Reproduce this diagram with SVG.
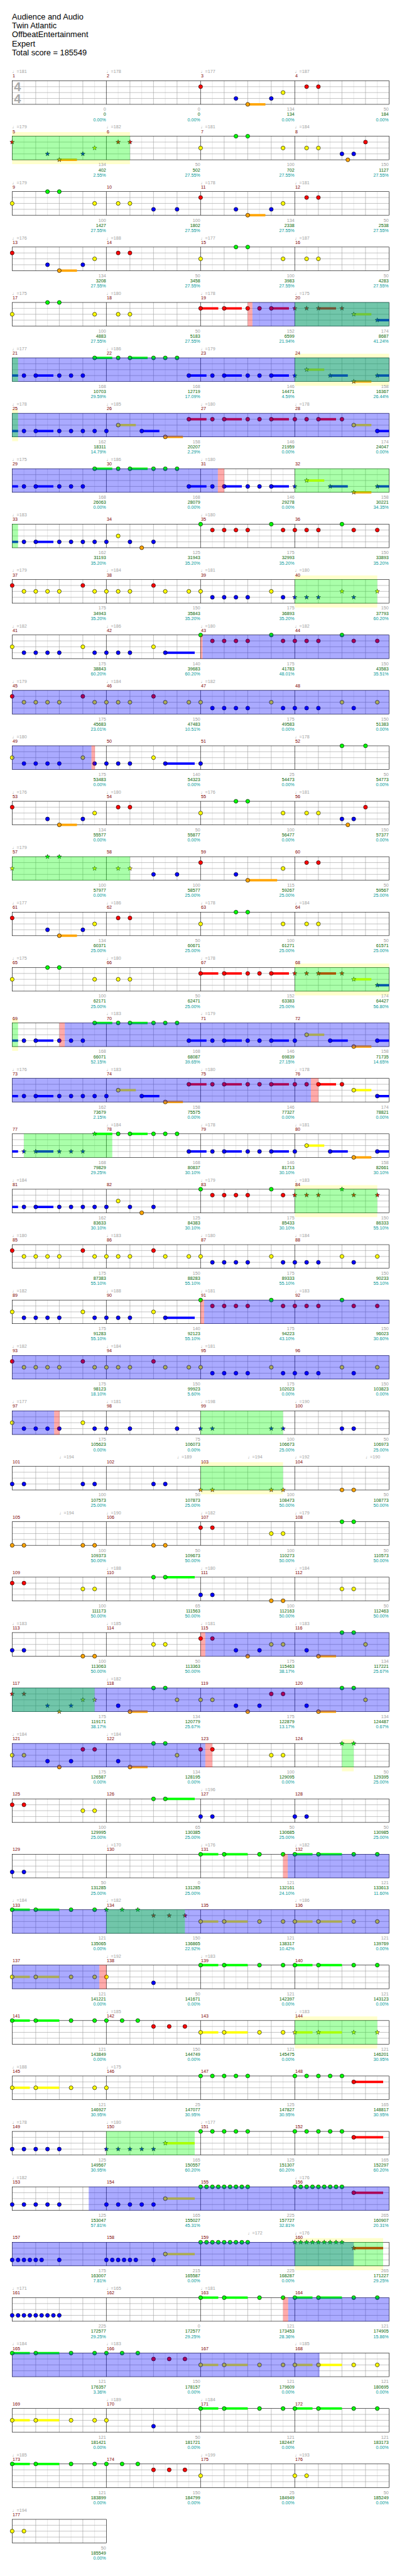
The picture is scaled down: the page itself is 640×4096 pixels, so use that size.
<svg xmlns="http://www.w3.org/2000/svg" xmlns:xlink="http://www.w3.org/1999/xlink" width="640" height="4096" viewBox="0 0 640 4096">
<style>
text{font-family:"Liberation Sans",Arial,"DejaVu Sans",sans-serif;font-size:11.5px}
.ti{font-size:20.5px;fill:#000}
.ts{font-size:32px;font-weight:bold;fill:#aaa}
.tp{fill:#a0a0a0}
.mn{fill:#800000}
.n1{fill:#a0a0a0;text-anchor:end}
.n2{fill:#006400;text-anchor:end}
.n3{fill:#009999;text-anchor:end}
.l1{stroke:#dcdcdc;fill:none}
.l2{stroke:#a0a0a0;fill:none}
.l3{stroke:#000;fill:none}
.t{fill:none;stroke-width:6}
.tG{stroke:#00ff00}.tR{stroke:#ff0000}.tY{stroke:#ffff00}.tB{stroke:#0000ff}.tO{stroke:#ffa500}
.yb{fill:#ffffcc}
.og{fill:#00ff00;fill-opacity:.333}
.ob{fill:#0000ff;fill-opacity:.333}
.op{fill:#ff0000;fill-opacity:.333}
</style>
<defs>
<circle id="G" cy="205.5" r="5" fill="#00ff00" stroke="#000"/>
<circle id="R" cy="220.5" r="5" fill="#ff0000" stroke="#000"/>
<circle id="Y" cy="235.5" r="5" fill="#ffff00" stroke="#000"/>
<circle id="B" cy="250.5" r="5" fill="#0000ff" stroke="#000"/>
<circle id="O" cy="265.5" r="5" fill="#ffa500" stroke="#000"/>
<path id="st" d="M0 -6L1.41 -1.94 5.71 -1.85 2.28 0.74 3.53 4.85 0 2.4 -3.53 4.85 -2.28 0.74 -5.71 -1.85 -1.41 -1.94Z" stroke="#000" stroke-width=".8"/>
<use id="sG" href="#st" y="205.5" fill="#00ff00"/>
<use id="sR" href="#st" y="220.5" fill="#ff0000"/>
<use id="sY" href="#st" y="235.5" fill="#ffff00"/>
<use id="sB" href="#st" y="250.5" fill="#0000ff"/>
<use id="sO" href="#st" y="265.5" fill="#ffa500"/>
<g id="s4">
<path class="l1" d="M61 205.5v60M121 205.5v60M181 205.5v60M241 205.5v60M301 205.5v60M361 205.5v60M421 205.5v60M481 205.5v60M541 205.5v60M601 205.5v60M661 205.5v60M721 205.5v60M781 205.5v60M841 205.5v60M901 205.5v60M961 205.5v60"/>
<path class="l2" d="M31 220.5H991M31 235.5H991M31 250.5H991M91 205.5v60M151 205.5v60M211 205.5v60M331 205.5v60M391 205.5v60M451 205.5v60M571 205.5v60M631 205.5v60M691 205.5v60M811 205.5v60M871 205.5v60M931 205.5v60"/>
<path class="l3" d="M271 205.5v60M511 205.5v60M751 205.5v60"/>
<rect class="l3" x="31" y="205.5" width="960" height="60"/>
</g>
<g id="s1">
<path class="l1" d="M61 205.5v60M121 205.5v60M181 205.5v60M241 205.5v60"/>
<path class="l2" d="M31 220.5H271M31 235.5H271M31 250.5H271M91 205.5v60M151 205.5v60M211 205.5v60"/>
<rect class="l3" x="31" y="205.5" width="240" height="60"/>
</g>
</defs>
<rect width="640" height="4096" fill="#fff"/>
<g transform="scale(0.625)">
<g id="title">
<text class="ti" x="30.5" y="49">Audience and Audio</text>
<text class="ti" x="30.5" y="72">Twin Atlantic</text>
<text class="ti" x="30.5" y="95">OffbeatEntertainment</text>
<text class="ti" x="30.5" y="118">Expert</text>
<text class="ti" x="30.5" y="141">Total score = 185549</text>
</g>

<g id="r0">
<use href="#s4"/>
<text class="ts" x="35.5" y="232">4</text><text class="ts" x="35.5" y="262">4</text>
<path class="t tO" d="M631 265.5H676"/>
<use href="#R" x="511"/><use href="#B" x="601"/><use href="#O" x="631"/><use href="#B" x="691"/><use href="#Y" x="721"/><use href="#R" x="781"/><use href="#R" x="811"/>
<text class="tp" x="31" y="186">♩=181</text><text class="tp" x="271" y="186">♩=178</text><text class="tp" x="511" y="186">♩=177</text><text class="tp" x="751" y="186">♩=187</text>
<text class="mn" x="32" y="197.5">1</text><text class="mn" x="272" y="197.5">2</text><text class="mn" x="512" y="197.5">3</text><text class="mn" x="752" y="197.5">4</text>
<text class="n1" x="270" y="282">0</text><text class="n2" x="270" y="295">0</text><text class="n3" x="270" y="308">0.00%</text>
<text class="n1" x="510" y="282">0</text><text class="n2" x="510" y="295">0</text><text class="n3" x="510" y="308">0.00%</text>
<text class="n1" x="750" y="282">134</text><text class="n2" x="750" y="295">134</text><text class="n3" x="750" y="308">0.00%</text>
<text class="n1" x="990" y="282">50</text><text class="n2" x="990" y="295">184</text><text class="n3" x="990" y="308">0.00%</text>
</g>

<g id="r1" transform="translate(0,141)">
<path class="yb" d="M31 195h300v10.5h-300zM31 265.5h300v11h-300z"/>
<use href="#s4"/>
<path class="t tO" d="M151 265.5H196"/>
<use href="#sR" x="31"/><use href="#sB" x="121"/><use href="#sO" x="151"/><use href="#sB" x="211"/><use href="#sY" x="241"/><use href="#sR" x="301"/><use href="#sR" x="331"/><use href="#Y" x="511"/><use href="#G" x="601"/><use href="#G" x="631"/><use href="#Y" x="721"/><use href="#Y" x="781"/><use href="#Y" x="811"/><use href="#B" x="871"/><use href="#O" x="886"/><use href="#B" x="901"/><use href="#R" x="931"/>
<rect class="og" x="31" y="205" width="300" height="61"/>
<text class="tp" x="31" y="186">♩=179</text><text class="tp" x="271" y="186">♩=182</text><text class="tp" x="511" y="186">♩=181</text><text class="tp" x="751" y="186">♩=184</text>
<text class="mn" x="32" y="197.5">5</text><text class="mn" x="272" y="197.5">6</text><text class="mn" x="512" y="197.5">7</text><text class="mn" x="752" y="197.5">8</text>
<text class="n1" x="270" y="282">134</text><text class="n2" x="270" y="295">402</text><text class="n3" x="270" y="308">2.55%</text>
<text class="n1" x="510" y="282">50</text><text class="n2" x="510" y="295">502</text><text class="n3" x="510" y="308">27.55%</text>
<text class="n1" x="750" y="282">100</text><text class="n2" x="750" y="295">702</text><text class="n3" x="750" y="308">27.55%</text>
<text class="n1" x="990" y="282">150</text><text class="n2" x="990" y="295">1127</text><text class="n3" x="990" y="308">27.55%</text>
</g>

<g id="r2" transform="translate(0,282)">
<use href="#s4"/>
<path class="t tO" d="M631 265.5H676"/>
<use href="#Y" x="31"/><use href="#G" x="121"/><use href="#G" x="151"/><use href="#Y" x="241"/><use href="#Y" x="301"/><use href="#Y" x="331"/><use href="#B" x="391"/><use href="#B" x="451"/><use href="#R" x="511"/><use href="#B" x="601"/><use href="#O" x="631"/><use href="#B" x="691"/><use href="#Y" x="721"/><use href="#R" x="781"/><use href="#R" x="811"/>
<text class="tp" x="31" y="186">♩=179</text><text class="tp" x="511" y="186">♩=178</text><text class="tp" x="751" y="186">♩=181</text>
<text class="mn" x="32" y="197.5">9</text><text class="mn" x="272" y="197.5">10</text><text class="mn" x="512" y="197.5">11</text><text class="mn" x="752" y="197.5">12</text>
<text class="n1" x="270" y="282">100</text><text class="n2" x="270" y="295">1427</text><text class="n3" x="270" y="308">27.55%</text>
<text class="n1" x="510" y="282">100</text><text class="n2" x="510" y="295">1802</text><text class="n3" x="510" y="308">27.55%</text>
<text class="n1" x="750" y="282">134</text><text class="n2" x="750" y="295">2338</text><text class="n3" x="750" y="308">27.55%</text>
<text class="n1" x="990" y="282">50</text><text class="n2" x="990" y="295">2538</text><text class="n3" x="990" y="308">27.55%</text>
</g>

<g id="r3" transform="translate(0,423)">
<use href="#s4"/>
<path class="t tO" d="M151 265.5H196"/>
<use href="#R" x="31"/><use href="#B" x="121"/><use href="#O" x="151"/><use href="#B" x="211"/><use href="#Y" x="241"/><use href="#R" x="301"/><use href="#R" x="331"/><use href="#Y" x="511"/><use href="#G" x="601"/><use href="#G" x="631"/><use href="#Y" x="721"/><use href="#Y" x="781"/><use href="#Y" x="811"/>
<text class="tp" x="31" y="186">♩=176</text><text class="tp" x="271" y="186">♩=188</text><text class="tp" x="511" y="186">♩=177</text><text class="tp" x="751" y="186">♩=187</text>
<text class="mn" x="32" y="197.5">13</text><text class="mn" x="272" y="197.5">14</text><text class="mn" x="512" y="197.5">15</text><text class="mn" x="752" y="197.5">16</text>
<text class="n1" x="270" y="282">134</text><text class="n2" x="270" y="295">3208</text><text class="n3" x="270" y="308">27.55%</text>
<text class="n1" x="510" y="282">50</text><text class="n2" x="510" y="295">3458</text><text class="n3" x="510" y="308">27.55%</text>
<text class="n1" x="750" y="282">100</text><text class="n2" x="750" y="295">3983</text><text class="n3" x="750" y="308">27.55%</text>
<text class="n1" x="990" y="282">50</text><text class="n2" x="990" y="295">4283</text><text class="n3" x="990" y="308">27.55%</text>
</g>

<g id="r4" transform="translate(0,564)">
<use href="#s4"/>
<path class="t tR" d="M511 220.5H556M571 220.5H616M691 220.5H736M811 220.5H856"/><path class="t tY" d="M901 235.5H946"/><path class="t tB" d="M961 250.5H991"/>
<use href="#Y" x="31"/><use href="#G" x="121"/><use href="#G" x="151"/><use href="#Y" x="241"/><use href="#Y" x="301"/><use href="#Y" x="331"/><use href="#R" x="511"/><use href="#R" x="571"/><use href="#R" x="631"/><use href="#R" x="661"/><use href="#R" x="691"/><use href="#sR" x="751"/><use href="#sR" x="781"/><use href="#sR" x="811"/><use href="#sR" x="871"/><use href="#sY" x="901"/><use href="#sB" x="961"/>
<rect class="op" x="631" y="205" width="12" height="61"/><rect class="ob" x="643" y="205" width="348" height="61"/><rect class="og" x="751" y="205" width="240" height="61"/>
<text class="tp" x="31" y="186">♩=175</text><text class="tp" x="271" y="186">♩=180</text><text class="tp" x="511" y="186">♩=178</text><text class="tp" x="751" y="186">♩=175</text>
<text class="mn" x="32" y="197.5">17</text><text class="mn" x="272" y="197.5">18</text><text class="mn" x="512" y="197.5">19</text><text class="mn" x="752" y="197.5">20</text>
<text class="n1" x="270" y="282">100</text><text class="n2" x="270" y="295">4883</text><text class="n3" x="270" y="308">27.55%</text>
<text class="n1" x="510" y="282">50</text><text class="n2" x="510" y="295">5183</text><text class="n3" x="510" y="308">27.55%</text>
<text class="n1" x="750" y="282">152</text><text class="n2" x="750" y="295">6599</text><text class="n3" x="750" y="308">21.94%</text>
<text class="n1" x="990" y="282">174</text><text class="n2" x="990" y="295">8687</text><text class="n3" x="990" y="308">41.24%</text>
</g>

<g id="r5" transform="translate(0,705)">
<path class="yb" d="M751 195h240v10.5h-240zM751 265.5h240v11h-240z"/>
<use href="#s4"/>
<path class="t tB" d="M31 250.5H46M91 250.5H136M481 250.5H526M571 250.5H616M691 250.5H736M841 250.5H886M961 250.5H991"/><path class="t tG" d="M241 205.5H286M331 205.5H376"/><path class="t tY" d="M781 235.5H826"/><path class="t tO" d="M901 265.5H946"/>
<use href="#B" x="61"/><use href="#B" x="91"/><use href="#B" x="151"/><use href="#B" x="181"/><use href="#B" x="211"/><use href="#G" x="241"/><use href="#G" x="301"/><use href="#G" x="331"/><use href="#G" x="391"/><use href="#G" x="421"/><use href="#G" x="451"/><use href="#B" x="481"/><use href="#B" x="541"/><use href="#B" x="571"/><use href="#B" x="631"/><use href="#B" x="661"/><use href="#B" x="691"/><use href="#sB" x="751"/><use href="#sY" x="781"/><use href="#sB" x="841"/><use href="#sO" x="901"/><use href="#sB" x="961"/>
<rect class="ob" x="31" y="205" width="960" height="61"/><rect class="og" x="31" y="205" width="15" height="61"/><rect class="og" x="751" y="205" width="240" height="61"/>
<text class="tp" x="31" y="186">♩=177</text><text class="tp" x="271" y="186">♩=186</text><text class="tp" x="511" y="186">♩=179</text>
<text class="mn" x="32" y="197.5">21</text><text class="mn" x="272" y="197.5">22</text><text class="mn" x="512" y="197.5">23</text><text class="mn" x="752" y="197.5">24</text>
<text class="n1" x="270" y="282">168</text><text class="n2" x="270" y="295">10703</text><text class="n3" x="270" y="308">29.59%</text>
<text class="n1" x="510" y="282">168</text><text class="n2" x="510" y="295">12719</text><text class="n3" x="510" y="308">17.09%</text>
<text class="n1" x="750" y="282">146</text><text class="n2" x="750" y="295">14471</text><text class="n3" x="750" y="308">4.59%</text>
<text class="n1" x="990" y="282">158</text><text class="n2" x="990" y="295">16367</text><text class="n3" x="990" y="308">26.44%</text>
</g>

<g id="r6" transform="translate(0,846)">
<path class="yb" d="M31 195h15v10.5h-15zM31 265.5h15v11h-15z"/>
<use href="#s4"/>
<path class="t tB" d="M31 250.5H46M91 250.5H136M361 250.5H406M961 250.5H991"/><path class="t tY" d="M301 235.5H346M901 235.5H946"/><path class="t tO" d="M421 265.5H466"/><path class="t tR" d="M481 220.5H526M571 220.5H616M691 220.5H736M811 220.5H856"/>
<use href="#B" x="61"/><use href="#B" x="91"/><use href="#B" x="151"/><use href="#B" x="181"/><use href="#B" x="211"/><use href="#B" x="241"/><use href="#B" x="271"/><use href="#Y" x="301"/><use href="#B" x="361"/><use href="#O" x="421"/><use href="#R" x="481"/><use href="#R" x="541"/><use href="#R" x="571"/><use href="#R" x="631"/><use href="#R" x="661"/><use href="#R" x="691"/><use href="#R" x="751"/><use href="#R" x="781"/><use href="#R" x="811"/><use href="#R" x="871"/><use href="#Y" x="901"/><use href="#B" x="961"/>
<rect class="ob" x="31" y="205" width="960" height="61"/><rect class="og" x="31" y="205" width="15" height="61"/>
<text class="tp" x="31" y="186">♩=178</text><text class="tp" x="271" y="186">♩=185</text><text class="tp" x="511" y="186">♩=180</text><text class="tp" x="751" y="186">♩=178</text>
<text class="mn" x="32" y="197.5">25</text><text class="mn" x="272" y="197.5">26</text><text class="mn" x="512" y="197.5">27</text><text class="mn" x="752" y="197.5">28</text>
<text class="n1" x="270" y="282">162</text><text class="n2" x="270" y="295">18311</text><text class="n3" x="270" y="308">14.79%</text>
<text class="n1" x="510" y="282">158</text><text class="n2" x="510" y="295">20207</text><text class="n3" x="510" y="308">2.29%</text>
<text class="n1" x="750" y="282">146</text><text class="n2" x="750" y="295">21959</text><text class="n3" x="750" y="308">0.00%</text>
<text class="n1" x="990" y="282">174</text><text class="n2" x="990" y="295">24047</text><text class="n3" x="990" y="308">0.00%</text>
</g>

<g id="r7" transform="translate(0,987)">
<use href="#s4"/>
<path class="t tB" d="M31 250.5H46M91 250.5H136M481 250.5H526M571 250.5H616M691 250.5H736M841 250.5H886M961 250.5H991"/><path class="t tG" d="M241 205.5H286M331 205.5H376"/><path class="t tY" d="M781 235.5H826"/><path class="t tO" d="M901 265.5H946"/>
<use href="#B" x="61"/><use href="#B" x="91"/><use href="#B" x="151"/><use href="#B" x="181"/><use href="#B" x="211"/><use href="#G" x="241"/><use href="#G" x="301"/><use href="#G" x="331"/><use href="#G" x="391"/><use href="#G" x="421"/><use href="#G" x="451"/><use href="#B" x="481"/><use href="#B" x="541"/><use href="#B" x="571"/><use href="#B" x="631"/><use href="#B" x="661"/><use href="#B" x="691"/><use href="#sB" x="751"/><use href="#sY" x="781"/><use href="#sB" x="841"/><use href="#sO" x="901"/><use href="#sB" x="961"/>
<rect class="ob" x="31" y="205" width="524" height="61"/><rect class="op" x="555" y="205" width="16" height="61"/><rect class="og" x="751" y="205" width="240" height="61"/>
<text class="tp" x="31" y="186">♩=175</text><text class="tp" x="271" y="186">♩=186</text><text class="tp" x="511" y="186">♩=180</text>
<text class="mn" x="32" y="197.5">29</text><text class="mn" x="272" y="197.5">30</text><text class="mn" x="512" y="197.5">31</text><text class="mn" x="752" y="197.5">32</text>
<text class="n1" x="270" y="282">168</text><text class="n2" x="270" y="295">26063</text><text class="n3" x="270" y="308">0.00%</text>
<text class="n1" x="510" y="282">168</text><text class="n2" x="510" y="295">28079</text><text class="n3" x="510" y="308">0.00%</text>
<text class="n1" x="750" y="282">146</text><text class="n2" x="750" y="295">29278</text><text class="n3" x="750" y="308">0.00%</text>
<text class="n1" x="990" y="282">158</text><text class="n2" x="990" y="295">30221</text><text class="n3" x="990" y="308">34.35%</text>
</g>

<g id="r8" transform="translate(0,1128)">
<use href="#s4"/>
<path class="t tB" d="M31 250.5H46M91 250.5H136"/>
<use href="#B" x="61"/><use href="#B" x="91"/><use href="#B" x="151"/><use href="#B" x="181"/><use href="#B" x="211"/><use href="#B" x="241"/><use href="#B" x="271"/><use href="#Y" x="301"/><use href="#B" x="331"/><use href="#O" x="361"/><use href="#B" x="391"/><use href="#G" x="511"/><use href="#R" x="541"/><use href="#R" x="571"/><use href="#R" x="601"/><use href="#R" x="631"/><use href="#G" x="691"/><use href="#R" x="721"/><use href="#R" x="751"/><use href="#R" x="781"/><use href="#R" x="811"/><use href="#G" x="871"/><use href="#R" x="901"/><use href="#R" x="961"/>
<rect class="og" x="31" y="205" width="15" height="61"/>
<text class="tp" x="31" y="186">♩=183</text><text class="tp" x="511" y="186">♩=180</text>
<text class="mn" x="32" y="197.5">33</text><text class="mn" x="272" y="197.5">34</text><text class="mn" x="512" y="197.5">35</text><text class="mn" x="752" y="197.5">36</text>
<text class="n1" x="270" y="282">162</text><text class="n2" x="270" y="295">31193</text><text class="n3" x="270" y="308">35.20%</text>
<text class="n1" x="510" y="282">125</text><text class="n2" x="510" y="295">31943</text><text class="n3" x="510" y="308">35.20%</text>
<text class="n1" x="750" y="282">175</text><text class="n2" x="750" y="295">32993</text><text class="n3" x="750" y="308">35.20%</text>
<text class="n1" x="990" y="282">150</text><text class="n2" x="990" y="295">33893</text><text class="n3" x="990" y="308">35.20%</text>
</g>

<g id="r9" transform="translate(0,1269)">
<path class="yb" d="M751 195h210v10.5h-210zM751 265.5h210v11h-210z"/>
<use href="#s4"/>
<use href="#R" x="31"/><use href="#Y" x="61"/><use href="#Y" x="91"/><use href="#Y" x="121"/><use href="#Y" x="151"/><use href="#R" x="211"/><use href="#Y" x="241"/><use href="#Y" x="271"/><use href="#Y" x="301"/><use href="#Y" x="331"/><use href="#R" x="391"/><use href="#Y" x="421"/><use href="#Y" x="481"/><use href="#Y" x="511"/><use href="#B" x="541"/><use href="#B" x="571"/><use href="#B" x="601"/><use href="#B" x="631"/><use href="#Y" x="691"/><use href="#B" x="721"/><use href="#sB" x="751"/><use href="#sB" x="781"/><use href="#sB" x="811"/><use href="#sY" x="871"/><use href="#sB" x="901"/><use href="#sY" x="961"/>
<rect class="og" x="751" y="205" width="210" height="61"/>
<text class="tp" x="31" y="186">♩=179</text><text class="tp" x="271" y="186">♩=184</text><text class="tp" x="511" y="186">♩=181</text><text class="tp" x="751" y="186">♩=180</text>
<text class="mn" x="32" y="197.5">37</text><text class="mn" x="272" y="197.5">38</text><text class="mn" x="512" y="197.5">39</text><text class="mn" x="752" y="197.5">40</text>
<text class="n1" x="270" y="282">175</text><text class="n2" x="270" y="295">34943</text><text class="n3" x="270" y="308">35.20%</text>
<text class="n1" x="510" y="282">150</text><text class="n2" x="510" y="295">35843</text><text class="n3" x="510" y="308">35.20%</text>
<text class="n1" x="750" y="282">175</text><text class="n2" x="750" y="295">36893</text><text class="n3" x="750" y="308">35.20%</text>
<text class="n1" x="990" y="282">150</text><text class="n2" x="990" y="295">37793</text><text class="n3" x="990" y="308">60.20%</text>
</g>

<g id="r10" transform="translate(0,1410)">
<use href="#s4"/>
<path class="t tB" d="M421 250.5H496"/>
<use href="#Y" x="31"/><use href="#B" x="61"/><use href="#B" x="91"/><use href="#B" x="121"/><use href="#B" x="151"/><use href="#Y" x="211"/><use href="#B" x="241"/><use href="#B" x="271"/><use href="#B" x="301"/><use href="#B" x="331"/><use href="#Y" x="391"/><use href="#B" x="421"/><use href="#G" x="511"/><use href="#R" x="541"/><use href="#R" x="571"/><use href="#R" x="601"/><use href="#R" x="631"/><use href="#G" x="691"/><use href="#R" x="721"/><use href="#R" x="751"/><use href="#R" x="781"/><use href="#R" x="811"/><use href="#G" x="871"/><use href="#R" x="901"/><use href="#R" x="961"/>
<rect class="op" x="511" y="205" width="5" height="61"/><rect class="ob" x="516" y="205" width="475" height="61"/>
<text class="tp" x="31" y="186">♩=182</text><text class="tp" x="271" y="186">♩=186</text><text class="tp" x="511" y="186">♩=180</text><text class="tp" x="751" y="186">♩=182</text>
<text class="mn" x="32" y="197.5">41</text><text class="mn" x="272" y="197.5">42</text><text class="mn" x="512" y="197.5">43</text><text class="mn" x="752" y="197.5">44</text>
<text class="n1" x="270" y="282">175</text><text class="n2" x="270" y="295">38843</text><text class="n3" x="270" y="308">60.20%</text>
<text class="n1" x="510" y="282">140</text><text class="n2" x="510" y="295">39683</text><text class="n3" x="510" y="308">60.20%</text>
<text class="n1" x="750" y="282">175</text><text class="n2" x="750" y="295">41783</text><text class="n3" x="750" y="308">48.01%</text>
<text class="n1" x="990" y="282">150</text><text class="n2" x="990" y="295">43583</text><text class="n3" x="990" y="308">35.51%</text>
</g>

<g id="r11" transform="translate(0,1551)">
<use href="#s4"/>
<use href="#R" x="31"/><use href="#Y" x="61"/><use href="#Y" x="91"/><use href="#Y" x="121"/><use href="#Y" x="151"/><use href="#R" x="211"/><use href="#Y" x="241"/><use href="#Y" x="271"/><use href="#Y" x="301"/><use href="#Y" x="331"/><use href="#R" x="391"/><use href="#Y" x="421"/><use href="#Y" x="481"/><use href="#Y" x="511"/><use href="#B" x="541"/><use href="#B" x="571"/><use href="#B" x="601"/><use href="#B" x="631"/><use href="#Y" x="691"/><use href="#B" x="721"/><use href="#B" x="751"/><use href="#B" x="781"/><use href="#B" x="811"/><use href="#Y" x="871"/><use href="#B" x="901"/><use href="#Y" x="961"/>
<rect class="ob" x="31" y="205" width="960" height="61"/>
<text class="tp" x="31" y="186">♩=179</text><text class="tp" x="271" y="186">♩=184</text><text class="tp" x="511" y="186">♩=182</text>
<text class="mn" x="32" y="197.5">45</text><text class="mn" x="272" y="197.5">46</text><text class="mn" x="512" y="197.5">47</text><text class="mn" x="752" y="197.5">48</text>
<text class="n1" x="270" y="282">175</text><text class="n2" x="270" y="295">45683</text><text class="n3" x="270" y="308">23.01%</text>
<text class="n1" x="510" y="282">150</text><text class="n2" x="510" y="295">47483</text><text class="n3" x="510" y="308">10.51%</text>
<text class="n1" x="750" y="282">175</text><text class="n2" x="750" y="295">49583</text><text class="n3" x="750" y="308">0.00%</text>
<text class="n1" x="990" y="282">150</text><text class="n2" x="990" y="295">51383</text><text class="n3" x="990" y="308">0.00%</text>
</g>

<g id="r12" transform="translate(0,1692)">
<use href="#s4"/>
<path class="t tB" d="M421 250.5H496"/>
<use href="#Y" x="31"/><use href="#B" x="61"/><use href="#B" x="91"/><use href="#B" x="121"/><use href="#B" x="151"/><use href="#Y" x="211"/><use href="#B" x="241"/><use href="#B" x="271"/><use href="#B" x="301"/><use href="#B" x="331"/><use href="#Y" x="391"/><use href="#B" x="421"/><use href="#B" x="511"/><use href="#G" x="871"/><use href="#G" x="931"/>
<rect class="ob" x="31" y="205" width="202" height="61"/><rect class="op" x="233" y="205" width="9" height="61"/>
<text class="tp" x="31" y="186">♩=180</text><text class="tp" x="751" y="186">♩=178</text>
<text class="mn" x="32" y="197.5">49</text><text class="mn" x="272" y="197.5">50</text><text class="mn" x="512" y="197.5">51</text><text class="mn" x="752" y="197.5">52</text>
<text class="n1" x="270" y="282">175</text><text class="n2" x="270" y="295">53483</text><text class="n3" x="270" y="308">0.00%</text>
<text class="n1" x="510" y="282">140</text><text class="n2" x="510" y="295">54323</text><text class="n3" x="510" y="308">0.00%</text>
<text class="n1" x="750" y="282">25</text><text class="n2" x="750" y="295">54473</text><text class="n3" x="750" y="308">0.00%</text>
<text class="n1" x="990" y="282">50</text><text class="n2" x="990" y="295">54773</text><text class="n3" x="990" y="308">0.00%</text>
</g>

<g id="r13" transform="translate(0,1833)">
<use href="#s4"/>
<path class="t tO" d="M151 265.5H196"/>
<use href="#R" x="31"/><use href="#B" x="121"/><use href="#O" x="151"/><use href="#B" x="211"/><use href="#Y" x="241"/><use href="#R" x="301"/><use href="#R" x="331"/><use href="#Y" x="511"/><use href="#G" x="601"/><use href="#G" x="631"/><use href="#Y" x="721"/><use href="#Y" x="781"/><use href="#Y" x="811"/><use href="#B" x="871"/><use href="#O" x="886"/><use href="#B" x="901"/><use href="#R" x="931"/>
<text class="tp" x="31" y="186">♩=176</text><text class="tp" x="271" y="186">♩=180</text><text class="tp" x="511" y="186">♩=176</text><text class="tp" x="751" y="186">♩=181</text>
<text class="mn" x="32" y="197.5">53</text><text class="mn" x="272" y="197.5">54</text><text class="mn" x="512" y="197.5">55</text><text class="mn" x="752" y="197.5">56</text>
<text class="n1" x="270" y="282">134</text><text class="n2" x="270" y="295">55577</text><text class="n3" x="270" y="308">0.00%</text>
<text class="n1" x="510" y="282">50</text><text class="n2" x="510" y="295">55877</text><text class="n3" x="510" y="308">0.00%</text>
<text class="n1" x="750" y="282">100</text><text class="n2" x="750" y="295">56477</text><text class="n3" x="750" y="308">0.00%</text>
<text class="n1" x="990" y="282">150</text><text class="n2" x="990" y="295">57377</text><text class="n3" x="990" y="308">0.00%</text>
</g>

<g id="r14" transform="translate(0,1974)">
<use href="#s4"/>
<path class="t tO" d="M631 265.5H706"/>
<use href="#sY" x="31"/><use href="#sG" x="121"/><use href="#sG" x="151"/><use href="#sY" x="241"/><use href="#sY" x="301"/><use href="#sY" x="331"/><use href="#B" x="391"/><use href="#B" x="451"/><use href="#R" x="511"/><use href="#B" x="601"/><use href="#O" x="631"/><use href="#Y" x="721"/><use href="#R" x="781"/><use href="#R" x="811"/>
<rect class="og" x="31" y="205" width="300" height="61"/>
<text class="tp" x="31" y="186">♩=179</text>
<text class="mn" x="32" y="197.5">57</text><text class="mn" x="272" y="197.5">58</text><text class="mn" x="512" y="197.5">59</text><text class="mn" x="752" y="197.5">60</text>
<text class="n1" x="270" y="282">100</text><text class="n2" x="270" y="295">57977</text><text class="n3" x="270" y="308">0.00%</text>
<text class="n1" x="510" y="282">100</text><text class="n2" x="510" y="295">58577</text><text class="n3" x="510" y="308">25.00%</text>
<text class="n1" x="750" y="282">115</text><text class="n2" x="750" y="295">59267</text><text class="n3" x="750" y="308">25.00%</text>
<text class="n1" x="990" y="282">50</text><text class="n2" x="990" y="295">59567</text><text class="n3" x="990" y="308">25.00%</text>
</g>

<g id="r15" transform="translate(0,2115)">
<use href="#s4"/>
<path class="t tO" d="M151 265.5H196"/>
<use href="#R" x="31"/><use href="#B" x="121"/><use href="#O" x="151"/><use href="#B" x="211"/><use href="#Y" x="241"/><use href="#R" x="301"/><use href="#R" x="331"/><use href="#Y" x="511"/><use href="#G" x="601"/><use href="#G" x="631"/><use href="#Y" x="721"/><use href="#Y" x="781"/><use href="#Y" x="811"/>
<text class="tp" x="31" y="186">♩=177</text><text class="tp" x="271" y="186">♩=186</text><text class="tp" x="511" y="186">♩=178</text><text class="tp" x="751" y="186">♩=184</text>
<text class="mn" x="32" y="197.5">61</text><text class="mn" x="272" y="197.5">62</text><text class="mn" x="512" y="197.5">63</text><text class="mn" x="752" y="197.5">64</text>
<text class="n1" x="270" y="282">134</text><text class="n2" x="270" y="295">60371</text><text class="n3" x="270" y="308">25.00%</text>
<text class="n1" x="510" y="282">50</text><text class="n2" x="510" y="295">60671</text><text class="n3" x="510" y="308">25.00%</text>
<text class="n1" x="750" y="282">100</text><text class="n2" x="750" y="295">61271</text><text class="n3" x="750" y="308">25.00%</text>
<text class="n1" x="990" y="282">50</text><text class="n2" x="990" y="295">61571</text><text class="n3" x="990" y="308">25.00%</text>
</g>

<g id="r16" transform="translate(0,2256)">
<path class="yb" d="M751 195h240v10.5h-240zM751 265.5h240v11h-240z"/>
<use href="#s4"/>
<path class="t tR" d="M511 220.5H556M571 220.5H616M691 220.5H736M811 220.5H856"/><path class="t tY" d="M901 235.5H946"/><path class="t tB" d="M961 250.5H991"/>
<use href="#Y" x="31"/><use href="#G" x="121"/><use href="#G" x="151"/><use href="#Y" x="241"/><use href="#Y" x="301"/><use href="#Y" x="331"/><use href="#R" x="511"/><use href="#R" x="571"/><use href="#R" x="631"/><use href="#R" x="661"/><use href="#R" x="691"/><use href="#sR" x="751"/><use href="#sR" x="781"/><use href="#sR" x="811"/><use href="#sR" x="871"/><use href="#sY" x="901"/><use href="#sB" x="961"/>
<rect class="og" x="751" y="205" width="240" height="61"/>
<text class="tp" x="31" y="186">♩=175</text><text class="tp" x="271" y="186">♩=180</text><text class="tp" x="511" y="186">♩=178</text>
<text class="mn" x="32" y="197.5">65</text><text class="mn" x="272" y="197.5">66</text><text class="mn" x="512" y="197.5">67</text><text class="mn" x="752" y="197.5">68</text>
<text class="n1" x="270" y="282">100</text><text class="n2" x="270" y="295">62171</text><text class="n3" x="270" y="308">25.00%</text>
<text class="n1" x="510" y="282">50</text><text class="n2" x="510" y="295">62471</text><text class="n3" x="510" y="308">25.00%</text>
<text class="n1" x="750" y="282">152</text><text class="n2" x="750" y="295">63383</text><text class="n3" x="750" y="308">25.00%</text>
<text class="n1" x="990" y="282">174</text><text class="n2" x="990" y="295">64427</text><text class="n3" x="990" y="308">56.80%</text>
</g>

<g id="r17" transform="translate(0,2397)">
<path class="yb" d="M31 195h15v10.5h-15zM31 265.5h15v11h-15z"/>
<use href="#s4"/>
<path class="t tB" d="M31 250.5H46M91 250.5H136M481 250.5H526M571 250.5H616M691 250.5H736M841 250.5H886M961 250.5H991"/><path class="t tG" d="M241 205.5H286M331 205.5H376"/><path class="t tY" d="M781 235.5H826"/><path class="t tO" d="M901 265.5H946"/>
<use href="#B" x="61"/><use href="#B" x="91"/><use href="#B" x="151"/><use href="#B" x="181"/><use href="#B" x="211"/><use href="#G" x="241"/><use href="#G" x="301"/><use href="#G" x="331"/><use href="#G" x="391"/><use href="#G" x="421"/><use href="#G" x="451"/><use href="#B" x="481"/><use href="#B" x="541"/><use href="#B" x="571"/><use href="#B" x="631"/><use href="#B" x="661"/><use href="#B" x="691"/><use href="#B" x="751"/><use href="#Y" x="781"/><use href="#B" x="841"/><use href="#O" x="901"/><use href="#B" x="961"/>
<rect class="og" x="31" y="205" width="15" height="61"/><rect class="op" x="151.5" y="205" width="13.5" height="61"/><rect class="ob" x="165" y="205" width="826" height="61"/>
<text class="tp" x="271" y="186">♩=183</text><text class="tp" x="511" y="186">♩=179</text>
<text class="mn" x="32" y="197.5">69</text><text class="mn" x="272" y="197.5">70</text><text class="mn" x="512" y="197.5">71</text><text class="mn" x="752" y="197.5">72</text>
<text class="n1" x="270" y="282">168</text><text class="n2" x="270" y="295">66071</text><text class="n3" x="270" y="308">52.15%</text>
<text class="n1" x="510" y="282">168</text><text class="n2" x="510" y="295">68087</text><text class="n3" x="510" y="308">39.65%</text>
<text class="n1" x="750" y="282">146</text><text class="n2" x="750" y="295">69839</text><text class="n3" x="750" y="308">27.15%</text>
<text class="n1" x="990" y="282">158</text><text class="n2" x="990" y="295">71735</text><text class="n3" x="990" y="308">14.65%</text>
</g>

<g id="r18" transform="translate(0,2538)">
<use href="#s4"/>
<path class="t tB" d="M31 250.5H46M91 250.5H136M361 250.5H406M961 250.5H991"/><path class="t tY" d="M301 235.5H346M901 235.5H946"/><path class="t tO" d="M421 265.5H466"/><path class="t tR" d="M481 220.5H526M571 220.5H616M691 220.5H736M811 220.5H856"/>
<use href="#B" x="61"/><use href="#B" x="91"/><use href="#B" x="151"/><use href="#B" x="181"/><use href="#B" x="211"/><use href="#B" x="241"/><use href="#B" x="271"/><use href="#Y" x="301"/><use href="#B" x="361"/><use href="#O" x="421"/><use href="#R" x="481"/><use href="#R" x="541"/><use href="#R" x="571"/><use href="#R" x="631"/><use href="#R" x="661"/><use href="#R" x="691"/><use href="#R" x="751"/><use href="#R" x="781"/><use href="#R" x="811"/><use href="#R" x="871"/><use href="#Y" x="901"/><use href="#B" x="961"/>
<rect class="ob" x="31" y="205" width="761" height="61"/><rect class="op" x="792" y="205" width="19" height="61"/>
<text class="tp" x="31" y="186">♩=176</text><text class="tp" x="271" y="186">♩=183</text><text class="tp" x="511" y="186">♩=180</text><text class="tp" x="751" y="186">♩=178</text>
<text class="mn" x="32" y="197.5">73</text><text class="mn" x="272" y="197.5">74</text><text class="mn" x="512" y="197.5">75</text><text class="mn" x="752" y="197.5">76</text>
<text class="n1" x="270" y="282">162</text><text class="n2" x="270" y="295">73679</text><text class="n3" x="270" y="308">2.15%</text>
<text class="n1" x="510" y="282">158</text><text class="n2" x="510" y="295">75575</text><text class="n3" x="510" y="308">0.00%</text>
<text class="n1" x="750" y="282">146</text><text class="n2" x="750" y="295">77327</text><text class="n3" x="750" y="308">0.00%</text>
<text class="n1" x="990" y="282">174</text><text class="n2" x="990" y="295">78821</text><text class="n3" x="990" y="308">0.00%</text>
</g>

<g id="r19" transform="translate(0,2679)">
<use href="#s4"/>
<path class="t tB" d="M31 250.5H46M91 250.5H136M481 250.5H526M571 250.5H616M691 250.5H736M841 250.5H886M961 250.5H991"/><path class="t tG" d="M241 205.5H286M331 205.5H376"/><path class="t tY" d="M781 235.5H826"/><path class="t tO" d="M901 265.5H946"/>
<use href="#sB" x="61"/><use href="#sB" x="91"/><use href="#sB" x="151"/><use href="#sB" x="181"/><use href="#sB" x="211"/><use href="#sG" x="241"/><use href="#G" x="301"/><use href="#G" x="331"/><use href="#G" x="391"/><use href="#G" x="421"/><use href="#G" x="451"/><use href="#B" x="481"/><use href="#B" x="541"/><use href="#B" x="571"/><use href="#B" x="631"/><use href="#B" x="661"/><use href="#B" x="691"/><use href="#B" x="751"/><use href="#Y" x="781"/><use href="#B" x="841"/><use href="#O" x="901"/><use href="#B" x="961"/>
<rect class="og" x="61" y="205" width="225" height="61"/>
<text class="tp" x="271" y="186">♩=184</text><text class="tp" x="511" y="186">♩=178</text><text class="tp" x="751" y="186">♩=181</text>
<text class="mn" x="32" y="197.5">77</text><text class="mn" x="272" y="197.5">78</text><text class="mn" x="512" y="197.5">79</text><text class="mn" x="752" y="197.5">80</text>
<text class="n1" x="270" y="282">168</text><text class="n2" x="270" y="295">79829</text><text class="n3" x="270" y="308">29.25%</text>
<text class="n1" x="510" y="282">168</text><text class="n2" x="510" y="295">80837</text><text class="n3" x="510" y="308">30.10%</text>
<text class="n1" x="750" y="282">146</text><text class="n2" x="750" y="295">81713</text><text class="n3" x="750" y="308">30.10%</text>
<text class="n1" x="990" y="282">158</text><text class="n2" x="990" y="295">82661</text><text class="n3" x="990" y="308">30.10%</text>
</g>

<g id="r20" transform="translate(0,2820)">
<path class="yb" d="M751 195h210v10.5h-210zM751 265.5h210v11h-210z"/>
<use href="#s4"/>
<path class="t tB" d="M31 250.5H46M91 250.5H136"/>
<use href="#B" x="61"/><use href="#B" x="91"/><use href="#B" x="151"/><use href="#B" x="181"/><use href="#B" x="211"/><use href="#B" x="241"/><use href="#B" x="271"/><use href="#Y" x="301"/><use href="#B" x="331"/><use href="#O" x="361"/><use href="#B" x="391"/><use href="#G" x="511"/><use href="#R" x="541"/><use href="#R" x="571"/><use href="#R" x="601"/><use href="#R" x="631"/><use href="#G" x="691"/><use href="#R" x="721"/><use href="#sR" x="751"/><use href="#sR" x="781"/><use href="#sR" x="811"/><use href="#sG" x="871"/><use href="#sR" x="901"/><use href="#sR" x="961"/>
<rect class="og" x="751" y="205" width="210" height="61"/>
<text class="tp" x="31" y="186">♩=184</text><text class="tp" x="511" y="186">♩=179</text><text class="tp" x="751" y="186">♩=183</text>
<text class="mn" x="32" y="197.5">81</text><text class="mn" x="272" y="197.5">82</text><text class="mn" x="512" y="197.5">83</text><text class="mn" x="752" y="197.5">84</text>
<text class="n1" x="270" y="282">162</text><text class="n2" x="270" y="295">83633</text><text class="n3" x="270" y="308">30.10%</text>
<text class="n1" x="510" y="282">125</text><text class="n2" x="510" y="295">84383</text><text class="n3" x="510" y="308">30.10%</text>
<text class="n1" x="750" y="282">175</text><text class="n2" x="750" y="295">85433</text><text class="n3" x="750" y="308">30.10%</text>
<text class="n1" x="990" y="282">150</text><text class="n2" x="990" y="295">86333</text><text class="n3" x="990" y="308">55.10%</text>
</g>

<g id="r21" transform="translate(0,2961)">
<use href="#s4"/>
<use href="#R" x="31"/><use href="#Y" x="61"/><use href="#Y" x="91"/><use href="#Y" x="121"/><use href="#Y" x="151"/><use href="#R" x="211"/><use href="#Y" x="241"/><use href="#Y" x="271"/><use href="#Y" x="301"/><use href="#Y" x="331"/><use href="#R" x="391"/><use href="#Y" x="421"/><use href="#Y" x="481"/><use href="#Y" x="511"/><use href="#B" x="541"/><use href="#B" x="571"/><use href="#B" x="601"/><use href="#B" x="631"/><use href="#Y" x="691"/><use href="#B" x="721"/><use href="#B" x="751"/><use href="#B" x="781"/><use href="#B" x="811"/><use href="#Y" x="871"/><use href="#B" x="901"/><use href="#Y" x="961"/>
<text class="tp" x="31" y="186">♩=180</text><text class="tp" x="271" y="186">♩=183</text><text class="tp" x="511" y="186">♩=180</text><text class="tp" x="751" y="186">♩=184</text>
<text class="mn" x="32" y="197.5">85</text><text class="mn" x="272" y="197.5">86</text><text class="mn" x="512" y="197.5">87</text><text class="mn" x="752" y="197.5">88</text>
<text class="n1" x="270" y="282">175</text><text class="n2" x="270" y="295">87383</text><text class="n3" x="270" y="308">55.10%</text>
<text class="n1" x="510" y="282">150</text><text class="n2" x="510" y="295">88283</text><text class="n3" x="510" y="308">55.10%</text>
<text class="n1" x="750" y="282">175</text><text class="n2" x="750" y="295">89333</text><text class="n3" x="750" y="308">55.10%</text>
<text class="n1" x="990" y="282">150</text><text class="n2" x="990" y="295">90233</text><text class="n3" x="990" y="308">55.10%</text>
</g>

<g id="r22" transform="translate(0,3102)">
<use href="#s4"/>
<path class="t tB" d="M421 250.5H496"/>
<use href="#Y" x="31"/><use href="#B" x="61"/><use href="#B" x="91"/><use href="#B" x="121"/><use href="#B" x="151"/><use href="#Y" x="211"/><use href="#B" x="241"/><use href="#B" x="271"/><use href="#B" x="301"/><use href="#B" x="331"/><use href="#Y" x="391"/><use href="#B" x="421"/><use href="#G" x="511"/><use href="#R" x="541"/><use href="#R" x="571"/><use href="#R" x="601"/><use href="#R" x="631"/><use href="#G" x="691"/><use href="#R" x="721"/><use href="#R" x="751"/><use href="#R" x="781"/><use href="#R" x="811"/><use href="#G" x="871"/><use href="#R" x="901"/><use href="#R" x="961"/>
<rect class="op" x="511" y="205" width="9" height="61"/><rect class="ob" x="520" y="205" width="471" height="61"/>
<text class="tp" x="31" y="186">♩=182</text><text class="tp" x="271" y="186">♩=188</text><text class="tp" x="511" y="186">♩=181</text><text class="tp" x="751" y="186">♩=183</text>
<text class="mn" x="32" y="197.5">89</text><text class="mn" x="272" y="197.5">90</text><text class="mn" x="512" y="197.5">91</text><text class="mn" x="752" y="197.5">92</text>
<text class="n1" x="270" y="282">175</text><text class="n2" x="270" y="295">91283</text><text class="n3" x="270" y="308">55.10%</text>
<text class="n1" x="510" y="282">140</text><text class="n2" x="510" y="295">92123</text><text class="n3" x="510" y="308">55.10%</text>
<text class="n1" x="750" y="282">175</text><text class="n2" x="750" y="295">94223</text><text class="n3" x="750" y="308">43.10%</text>
<text class="n1" x="990" y="282">150</text><text class="n2" x="990" y="295">96023</text><text class="n3" x="990" y="308">30.60%</text>
</g>

<g id="r23" transform="translate(0,3243)">
<use href="#s4"/>
<use href="#R" x="31"/><use href="#Y" x="61"/><use href="#Y" x="91"/><use href="#Y" x="121"/><use href="#Y" x="151"/><use href="#R" x="211"/><use href="#Y" x="241"/><use href="#Y" x="271"/><use href="#Y" x="301"/><use href="#Y" x="331"/><use href="#R" x="391"/><use href="#Y" x="421"/><use href="#Y" x="481"/><use href="#Y" x="511"/><use href="#B" x="541"/><use href="#B" x="571"/><use href="#B" x="601"/><use href="#B" x="631"/><use href="#Y" x="691"/><use href="#B" x="721"/><use href="#B" x="751"/><use href="#B" x="781"/><use href="#B" x="811"/><use href="#Y" x="871"/><use href="#B" x="901"/><use href="#Y" x="961"/>
<rect class="ob" x="31" y="205" width="960" height="61"/>
<text class="tp" x="31" y="186">♩=182</text><text class="tp" x="271" y="186">♩=184</text><text class="tp" x="511" y="186">♩=181</text>
<text class="mn" x="32" y="197.5">93</text><text class="mn" x="272" y="197.5">94</text><text class="mn" x="512" y="197.5">95</text><text class="mn" x="752" y="197.5">96</text>
<text class="n1" x="270" y="282">175</text><text class="n2" x="270" y="295">98123</text><text class="n3" x="270" y="308">18.10%</text>
<text class="n1" x="510" y="282">150</text><text class="n2" x="510" y="295">99923</text><text class="n3" x="510" y="308">5.60%</text>
<text class="n1" x="750" y="282">175</text><text class="n2" x="750" y="295">102023</text><text class="n3" x="750" y="308">0.00%</text>
<text class="n1" x="990" y="282">150</text><text class="n2" x="990" y="295">103823</text><text class="n3" x="990" y="308">0.00%</text>
</g>

<g id="r24" transform="translate(0,3384)">
<use href="#s4"/>
<use href="#Y" x="31"/><use href="#B" x="61"/><use href="#B" x="91"/><use href="#B" x="121"/><use href="#B" x="151"/><use href="#Y" x="211"/><use href="#B" x="241"/><use href="#B" x="271"/><use href="#B" x="331"/><use href="#B" x="451"/><use href="#sB" x="511"/><use href="#sB" x="541"/><use href="#sB" x="691"/><use href="#sB" x="721"/><use href="#B" x="871"/><use href="#B" x="901"/>
<rect class="ob" x="31" y="205" width="107" height="61"/><rect class="op" x="138" y="205" width="13.5" height="61"/><rect class="og" x="511" y="205" width="210" height="61"/>
<text class="tp" x="31" y="186">♩=177</text><text class="tp" x="271" y="186">♩=181</text><text class="tp" x="511" y="186">♩=198</text><text class="tp" x="751" y="186">♩=190</text>
<text class="mn" x="32" y="197.5">97</text><text class="mn" x="272" y="197.5">98</text><text class="mn" x="512" y="197.5">99</text><text class="mn" x="752" y="197.5">100</text>
<text class="n1" x="270" y="282">175</text><text class="n2" x="270" y="295">105623</text><text class="n3" x="270" y="308">0.00%</text>
<text class="n1" x="510" y="282">75</text><text class="n2" x="510" y="295">106073</text><text class="n3" x="510" y="308">0.00%</text>
<text class="n1" x="750" y="282">100</text><text class="n2" x="750" y="295">106673</text><text class="n3" x="750" y="308">25.00%</text>
<text class="n1" x="990" y="282">50</text><text class="n2" x="990" y="295">106973</text><text class="n3" x="990" y="308">25.00%</text>
</g>

<g id="r25" transform="translate(0,3525)">
<path class="yb" d="M511 195h210v10.5h-210zM511 265.5h210v11h-210z"/>
<use href="#s4"/>
<use href="#B" x="31"/><use href="#B" x="61"/><use href="#B" x="211"/><use href="#B" x="241"/><use href="#B" x="391"/><use href="#B" x="421"/><use href="#sO" x="511"/><use href="#sO" x="541"/><use href="#sO" x="691"/><use href="#sO" x="721"/><use href="#O" x="871"/><use href="#O" x="901"/>
<rect class="og" x="511" y="205" width="210" height="61"/>
<text class="tp" x="151" y="186">♩=194</text><text class="tp" x="451" y="186">♩=189</text><text class="tp" x="631" y="186">♩=194</text><text class="tp" x="751" y="186">♩=192</text><text class="tp" x="931" y="186">♩=190</text>
<text class="mn" x="32" y="197.5">101</text><text class="mn" x="272" y="197.5">102</text><text class="mn" x="512" y="197.5">103</text><text class="mn" x="752" y="197.5">104</text>
<text class="n1" x="270" y="282">100</text><text class="n2" x="270" y="295">107573</text><text class="n3" x="270" y="308">25.00%</text>
<text class="n1" x="510" y="282">50</text><text class="n2" x="510" y="295">107873</text><text class="n3" x="510" y="308">25.00%</text>
<text class="n1" x="750" y="282">100</text><text class="n2" x="750" y="295">108473</text><text class="n3" x="750" y="308">50.00%</text>
<text class="n1" x="990" y="282">50</text><text class="n2" x="990" y="295">108773</text><text class="n3" x="990" y="308">50.00%</text>
</g>

<g id="r26" transform="translate(0,3666)">
<use href="#s4"/>
<use href="#O" x="31"/><use href="#O" x="61"/><use href="#O" x="211"/><use href="#O" x="241"/><use href="#O" x="391"/><use href="#O" x="421"/><use href="#R" x="511"/><use href="#R" x="541"/><use href="#Y" x="691"/><use href="#Y" x="721"/><use href="#G" x="871"/><use href="#G" x="901"/>
<text class="tp" x="151" y="186">♩=194</text><text class="tp" x="271" y="186">♩=190</text><text class="tp" x="511" y="186">♩=182</text><text class="tp" x="751" y="186">♩=179</text>
<text class="mn" x="32" y="197.5">105</text><text class="mn" x="272" y="197.5">106</text><text class="mn" x="512" y="197.5">107</text><text class="mn" x="752" y="197.5">108</text>
<text class="n1" x="270" y="282">100</text><text class="n2" x="270" y="295">109373</text><text class="n3" x="270" y="308">50.00%</text>
<text class="n1" x="510" y="282">50</text><text class="n2" x="510" y="295">109673</text><text class="n3" x="510" y="308">50.00%</text>
<text class="n1" x="750" y="282">100</text><text class="n2" x="750" y="295">110273</text><text class="n3" x="750" y="308">50.00%</text>
<text class="n1" x="990" y="282">50</text><text class="n2" x="990" y="295">110573</text><text class="n3" x="990" y="308">50.00%</text>
</g>

<g id="r27" transform="translate(0,3807)">
<use href="#s4"/>
<path class="t tG" d="M421 205.5H496"/>
<use href="#R" x="31"/><use href="#R" x="61"/><use href="#Y" x="211"/><use href="#Y" x="241"/><use href="#G" x="391"/><use href="#G" x="421"/><use href="#B" x="511"/><use href="#B" x="541"/><use href="#O" x="691"/><use href="#O" x="721"/><use href="#Y" x="871"/><use href="#Y" x="901"/>
<text class="tp" x="271" y="186">♩=188</text><text class="tp" x="511" y="186">♩=180</text><text class="tp" x="751" y="186">♩=184</text>
<text class="mn" x="32" y="197.5">109</text><text class="mn" x="272" y="197.5">110</text><text class="mn" x="512" y="197.5">111</text><text class="mn" x="752" y="197.5">112</text>
<text class="n1" x="270" y="282">100</text><text class="n2" x="270" y="295">111173</text><text class="n3" x="270" y="308">50.00%</text>
<text class="n1" x="510" y="282">65</text><text class="n2" x="510" y="295">111563</text><text class="n3" x="510" y="308">50.00%</text>
<text class="n1" x="750" y="282">100</text><text class="n2" x="750" y="295">112163</text><text class="n3" x="750" y="308">50.00%</text>
<text class="n1" x="990" y="282">50</text><text class="n2" x="990" y="295">112463</text><text class="n3" x="990" y="308">50.00%</text>
</g>

<g id="r28" transform="translate(0,3948)">
<use href="#s4"/>
<path class="t tO" d="M811 265.5H856"/>
<use href="#B" x="31"/><use href="#B" x="61"/><use href="#O" x="211"/><use href="#O" x="241"/><use href="#Y" x="391"/><use href="#Y" x="421"/><use href="#R" x="511"/><use href="#R" x="541"/><use href="#B" x="601"/><use href="#O" x="631"/><use href="#B" x="661"/><use href="#Y" x="691"/><use href="#Y" x="721"/><use href="#B" x="781"/><use href="#O" x="811"/><use href="#G" x="871"/><use href="#G" x="901"/><use href="#Y" x="931"/>
<rect class="op" x="511" y="205" width="12" height="61"/><rect class="ob" x="523" y="205" width="468" height="61"/>
<text class="tp" x="31" y="186">♩=183</text><text class="tp" x="271" y="186">♩=185</text><text class="tp" x="511" y="186">♩=181</text><text class="tp" x="751" y="186">♩=183</text>
<text class="mn" x="32" y="197.5">113</text><text class="mn" x="272" y="197.5">114</text><text class="mn" x="512" y="197.5">115</text><text class="mn" x="752" y="197.5">116</text>
<text class="n1" x="270" y="282">100</text><text class="n2" x="270" y="295">113063</text><text class="n3" x="270" y="308">50.00%</text>
<text class="n1" x="510" y="282">50</text><text class="n2" x="510" y="295">113363</text><text class="n3" x="510" y="308">50.00%</text>
<text class="n1" x="750" y="282">175</text><text class="n2" x="750" y="295">115463</text><text class="n3" x="750" y="308">38.17%</text>
<text class="n1" x="990" y="282">134</text><text class="n2" x="990" y="295">117221</text><text class="n3" x="990" y="308">25.67%</text>
</g>

<g id="r29" transform="translate(0,4089)">
<use href="#s4"/>
<path class="t tO" d="M331 265.5H376M811 265.5H856"/>
<use href="#sR" x="31"/><use href="#sR" x="61"/><use href="#sB" x="121"/><use href="#sO" x="151"/><use href="#sB" x="181"/><use href="#sY" x="211"/><use href="#sY" x="241"/><use href="#B" x="301"/><use href="#O" x="331"/><use href="#G" x="391"/><use href="#G" x="421"/><use href="#Y" x="451"/><use href="#Y" x="511"/><use href="#Y" x="541"/><use href="#B" x="601"/><use href="#O" x="631"/><use href="#B" x="661"/><use href="#R" x="691"/><use href="#R" x="721"/><use href="#B" x="781"/><use href="#O" x="811"/><use href="#G" x="871"/><use href="#G" x="901"/><use href="#Y" x="931"/>
<rect class="ob" x="31" y="205" width="960" height="61"/><rect class="og" x="31" y="205" width="210" height="61"/>
<text class="tp" x="271" y="186">♩=182</text>
<text class="mn" x="32" y="197.5">117</text><text class="mn" x="272" y="197.5">118</text><text class="mn" x="512" y="197.5">119</text><text class="mn" x="752" y="197.5">120</text>
<text class="n1" x="270" y="282">175</text><text class="n2" x="270" y="295">119171</text><text class="n3" x="270" y="308">38.17%</text>
<text class="n1" x="510" y="282">134</text><text class="n2" x="510" y="295">120779</text><text class="n3" x="510" y="308">25.67%</text>
<text class="n1" x="750" y="282">175</text><text class="n2" x="750" y="295">122879</text><text class="n3" x="750" y="308">13.17%</text>
<text class="n1" x="990" y="282">134</text><text class="n2" x="990" y="295">124487</text><text class="n3" x="990" y="308">0.67%</text>
</g>

<g id="r30" transform="translate(0,4230)">
<path class="yb" d="M871 195h30v10.5h-30zM871 265.5h30v11h-30z"/>
<use href="#s4"/>
<path class="t tO" d="M331 265.5H376"/>
<use href="#Y" x="31"/><use href="#Y" x="61"/><use href="#B" x="121"/><use href="#O" x="151"/><use href="#B" x="181"/><use href="#R" x="211"/><use href="#R" x="241"/><use href="#B" x="301"/><use href="#O" x="331"/><use href="#G" x="391"/><use href="#G" x="421"/><use href="#Y" x="451"/><use href="#R" x="511"/><use href="#R" x="541"/><use href="#Y" x="691"/><use href="#Y" x="721"/><use href="#sG" x="871"/><use href="#sG" x="901"/>
<rect class="ob" x="31" y="205" width="492" height="61"/><rect class="op" x="523" y="205" width="18" height="61"/><rect class="og" x="871" y="205" width="30" height="61"/>
<text class="tp" x="31" y="186">♩=184</text><text class="tp" x="271" y="186">♩=184</text>
<text class="mn" x="32" y="197.5">121</text><text class="mn" x="272" y="197.5">122</text><text class="mn" x="512" y="197.5">123</text><text class="mn" x="752" y="197.5">124</text>
<text class="n1" x="270" y="282">175</text><text class="n2" x="270" y="295">126587</text><text class="n3" x="270" y="308">0.00%</text>
<text class="n1" x="510" y="282">134</text><text class="n2" x="510" y="295">128195</text><text class="n3" x="510" y="308">0.00%</text>
<text class="n1" x="750" y="282">100</text><text class="n2" x="750" y="295">129095</text><text class="n3" x="750" y="308">0.00%</text>
<text class="n1" x="990" y="282">50</text><text class="n2" x="990" y="295">129395</text><text class="n3" x="990" y="308">25.00%</text>
</g>

<g id="r31" transform="translate(0,4371)">
<use href="#s4"/>
<path class="t tG" d="M421 205.5H496"/>
<use href="#R" x="31"/><use href="#R" x="61"/><use href="#Y" x="211"/><use href="#Y" x="241"/><use href="#G" x="391"/><use href="#G" x="421"/><use href="#B" x="511"/><use href="#B" x="541"/><use href="#B" x="751"/><use href="#B" x="781"/>
<text class="tp" x="511" y="186">♩=196</text>
<text class="mn" x="32" y="197.5">125</text><text class="mn" x="272" y="197.5">126</text><text class="mn" x="512" y="197.5">127</text><text class="mn" x="752" y="197.5">128</text>
<text class="n1" x="270" y="282">100</text><text class="n2" x="270" y="295">129995</text><text class="n3" x="270" y="308">25.00%</text>
<text class="n1" x="510" y="282">65</text><text class="n2" x="510" y="295">130385</text><text class="n3" x="510" y="308">25.00%</text>
<text class="n1" x="750" y="282">50</text><text class="n2" x="750" y="295">130685</text><text class="n3" x="750" y="308">25.00%</text>
<text class="n1" x="990" y="282">50</text><text class="n2" x="990" y="295">130985</text><text class="n3" x="990" y="308">25.00%</text>
</g>

<g id="r32" transform="translate(0,4512)">
<use href="#s4"/>
<path class="t tG" d="M511 205.5H556M571 205.5H631M751 205.5H796M811 205.5H871"/>
<use href="#B" x="31"/><use href="#B" x="61"/><use href="#G" x="511"/><use href="#G" x="571"/><use href="#G" x="661"/><use href="#G" x="721"/><use href="#G" x="751"/><use href="#G" x="811"/><use href="#G" x="901"/><use href="#G" x="961"/>
<rect class="op" x="721" y="205" width="12" height="61"/><rect class="ob" x="733" y="205" width="258" height="61"/>
<text class="tp" x="271" y="186">♩=170</text><text class="tp" x="511" y="186">♩=176</text><text class="tp" x="751" y="186">♩=182</text>
<text class="mn" x="32" y="197.5">129</text><text class="mn" x="272" y="197.5">130</text><text class="mn" x="512" y="197.5">131</text><text class="mn" x="752" y="197.5">132</text>
<text class="n1" x="270" y="282">50</text><text class="n2" x="270" y="295">131285</text><text class="n3" x="270" y="308">25.00%</text>
<text class="n1" x="510" y="282">0</text><text class="n2" x="510" y="295">131285</text><text class="n3" x="510" y="308">25.00%</text>
<text class="n1" x="750" y="282">121</text><text class="n2" x="750" y="295">132161</text><text class="n3" x="750" y="308">24.10%</text>
<text class="n1" x="990" y="282">121</text><text class="n2" x="990" y="295">133613</text><text class="n3" x="990" y="308">11.60%</text>
</g>

<g id="r33" transform="translate(0,4653)">
<use href="#s4"/>
<path class="t tG" d="M31 205.5H76M91 205.5H151"/><path class="t tY" d="M511 235.5H556M571 235.5H631M751 235.5H796M811 235.5H871"/>
<use href="#G" x="31"/><use href="#G" x="91"/><use href="#G" x="181"/><use href="#G" x="241"/><use href="#sG" x="271"/><use href="#sG" x="311"/><use href="#sG" x="351"/><use href="#sR" x="391"/><use href="#sR" x="431"/><use href="#sR" x="471"/><use href="#Y" x="511"/><use href="#Y" x="571"/><use href="#Y" x="661"/><use href="#Y" x="721"/><use href="#Y" x="751"/><use href="#Y" x="811"/><use href="#Y" x="901"/><use href="#Y" x="961"/>
<rect class="ob" x="31" y="205" width="960" height="61"/><rect class="og" x="271" y="205" width="200" height="61"/>
<text class="tp" x="31" y="186">♩=184</text><text class="tp" x="271" y="186">♩=182</text><text class="tp" x="751" y="186">♩=186</text>
<text class="mn" x="32" y="197.5">133</text><text class="mn" x="272" y="197.5">134</text><text class="mn" x="512" y="197.5">135</text><text class="mn" x="752" y="197.5">136</text>
<text class="n1" x="270" y="282">121</text><text class="n2" x="270" y="295">135065</text><text class="n3" x="270" y="308">0.00%</text>
<text class="n1" x="510" y="282">150</text><text class="n2" x="510" y="295">136865</text><text class="n3" x="510" y="308">22.92%</text>
<text class="n1" x="750" y="282">121</text><text class="n2" x="750" y="295">138317</text><text class="n3" x="750" y="308">10.42%</text>
<text class="n1" x="990" y="282">121</text><text class="n2" x="990" y="295">139769</text><text class="n3" x="990" y="308">0.00%</text>
</g>

<g id="r34" transform="translate(0,4794)">
<use href="#s4"/>
<path class="t tY" d="M31 235.5H76M91 235.5H151"/><path class="t tG" d="M511 205.5H556M571 205.5H631M751 205.5H796M811 205.5H871"/>
<use href="#Y" x="31"/><use href="#Y" x="91"/><use href="#Y" x="181"/><use href="#Y" x="241"/><use href="#Y" x="271"/><use href="#B" x="391"/><use href="#G" x="511"/><use href="#G" x="571"/><use href="#G" x="661"/><use href="#G" x="721"/><use href="#G" x="751"/><use href="#G" x="811"/><use href="#G" x="901"/><use href="#G" x="961"/>
<rect class="ob" x="31" y="205" width="222" height="61"/><rect class="op" x="253" y="205" width="18" height="61"/>
<text class="tp" x="271" y="186">♩=192</text><text class="tp" x="511" y="186">♩=183</text>
<text class="mn" x="32" y="197.5">137</text><text class="mn" x="272" y="197.5">138</text><text class="mn" x="512" y="197.5">139</text><text class="mn" x="752" y="197.5">140</text>
<text class="n1" x="270" y="282">121</text><text class="n2" x="270" y="295">141221</text><text class="n3" x="270" y="308">0.00%</text>
<text class="n1" x="510" y="282">50</text><text class="n2" x="510" y="295">141671</text><text class="n3" x="510" y="308">0.00%</text>
<text class="n1" x="750" y="282">121</text><text class="n2" x="750" y="295">142397</text><text class="n3" x="750" y="308">0.00%</text>
<text class="n1" x="990" y="282">121</text><text class="n2" x="990" y="295">143123</text><text class="n3" x="990" y="308">0.00%</text>
</g>

<g id="r35" transform="translate(0,4935)">
<path class="yb" d="M751 195h210v10.5h-210zM751 265.5h210v11h-210z"/>
<use href="#s4"/>
<path class="t tG" d="M31 205.5H76M91 205.5H151"/><path class="t tY" d="M511 235.5H556M571 235.5H631M751 235.5H796M811 235.5H871"/>
<use href="#G" x="31"/><use href="#G" x="91"/><use href="#G" x="181"/><use href="#G" x="241"/><use href="#G" x="271"/><use href="#G" x="311"/><use href="#G" x="351"/><use href="#R" x="391"/><use href="#R" x="431"/><use href="#R" x="471"/><use href="#Y" x="511"/><use href="#Y" x="571"/><use href="#Y" x="661"/><use href="#Y" x="721"/><use href="#sY" x="751"/><use href="#sY" x="811"/><use href="#sY" x="901"/><use href="#sY" x="961"/>
<rect class="og" x="751" y="205" width="210" height="61"/>
<text class="tp" x="271" y="186">♩=185</text><text class="tp" x="751" y="186">♩=183</text>
<text class="mn" x="32" y="197.5">141</text><text class="mn" x="272" y="197.5">142</text><text class="mn" x="512" y="197.5">143</text><text class="mn" x="752" y="197.5">144</text>
<text class="n1" x="270" y="282">121</text><text class="n2" x="270" y="295">143849</text><text class="n3" x="270" y="308">0.00%</text>
<text class="n1" x="510" y="282">150</text><text class="n2" x="510" y="295">144749</text><text class="n3" x="510" y="308">0.00%</text>
<text class="n1" x="750" y="282">121</text><text class="n2" x="750" y="295">145475</text><text class="n3" x="750" y="308">0.00%</text>
<text class="n1" x="990" y="282">121</text><text class="n2" x="990" y="295">146201</text><text class="n3" x="990" y="308">30.95%</text>
</g>

<g id="r36" transform="translate(0,5076)">
<use href="#s4"/>
<path class="t tY" d="M31 235.5H76M91 235.5H151"/><path class="t tR" d="M901 220.5H976"/>
<use href="#Y" x="31"/><use href="#Y" x="91"/><use href="#Y" x="181"/><use href="#Y" x="241"/><use href="#Y" x="271"/><use href="#G" x="511"/><use href="#G" x="541"/><use href="#G" x="571"/><use href="#G" x="601"/><use href="#G" x="631"/><use href="#G" x="751"/><use href="#G" x="781"/><use href="#G" x="811"/><use href="#G" x="841"/><use href="#G" x="871"/><use href="#R" x="901"/>
<text class="tp" x="31" y="186">♩=188</text><text class="tp" x="271" y="186">♩=175</text>
<text class="mn" x="32" y="197.5">145</text><text class="mn" x="272" y="197.5">146</text><text class="mn" x="512" y="197.5">147</text><text class="mn" x="752" y="197.5">148</text>
<text class="n1" x="270" y="282">121</text><text class="n2" x="270" y="295">146927</text><text class="n3" x="270" y="308">30.95%</text>
<text class="n1" x="510" y="282">25</text><text class="n2" x="510" y="295">147077</text><text class="n3" x="510" y="308">30.95%</text>
<text class="n1" x="750" y="282">125</text><text class="n2" x="750" y="295">147827</text><text class="n3" x="750" y="308">30.95%</text>
<text class="n1" x="990" y="282">165</text><text class="n2" x="990" y="295">148817</text><text class="n3" x="990" y="308">30.95%</text>
</g>

<g id="r37" transform="translate(0,5217)">
<use href="#s4"/>
<path class="t tY" d="M421 235.5H496"/><path class="t tR" d="M901 220.5H976"/>
<use href="#B" x="31"/><use href="#B" x="61"/><use href="#B" x="91"/><use href="#B" x="121"/><use href="#B" x="151"/><use href="#sB" x="271"/><use href="#sB" x="301"/><use href="#sB" x="331"/><use href="#sB" x="361"/><use href="#sB" x="391"/><use href="#sY" x="421"/><use href="#G" x="511"/><use href="#G" x="541"/><use href="#G" x="571"/><use href="#G" x="601"/><use href="#G" x="631"/><use href="#G" x="751"/><use href="#G" x="781"/><use href="#G" x="811"/><use href="#G" x="841"/><use href="#G" x="871"/><use href="#R" x="901"/>
<rect class="og" x="271" y="205" width="225" height="61"/>
<text class="tp" x="31" y="186">♩=178</text><text class="tp" x="271" y="186">♩=180</text><text class="tp" x="511" y="186">♩=177</text>
<text class="mn" x="32" y="197.5">149</text><text class="mn" x="272" y="197.5">150</text><text class="mn" x="512" y="197.5">151</text><text class="mn" x="752" y="197.5">152</text>
<text class="n1" x="270" y="282">125</text><text class="n2" x="270" y="295">149567</text><text class="n3" x="270" y="308">30.95%</text>
<text class="n1" x="510" y="282">165</text><text class="n2" x="510" y="295">150557</text><text class="n3" x="510" y="308">60.20%</text>
<text class="n1" x="750" y="282">125</text><text class="n2" x="750" y="295">151307</text><text class="n3" x="750" y="308">60.20%</text>
<text class="n1" x="990" y="282">165</text><text class="n2" x="990" y="295">152297</text><text class="n3" x="990" y="308">60.20%</text>
</g>

<g id="r38" transform="translate(0,5358)">
<use href="#s4"/>
<path class="t tY" d="M421 235.5H496"/><path class="t tR" d="M901 220.5H976"/>
<use href="#B" x="31"/><use href="#B" x="61"/><use href="#B" x="91"/><use href="#B" x="121"/><use href="#B" x="151"/><use href="#B" x="271"/><use href="#B" x="301"/><use href="#B" x="331"/><use href="#B" x="361"/><use href="#B" x="391"/><use href="#Y" x="421"/><use href="#G" x="511"/><use href="#G" x="526"/><use href="#G" x="541"/><use href="#G" x="556"/><use href="#G" x="571"/><use href="#G" x="586"/><use href="#G" x="601"/><use href="#G" x="616"/><use href="#G" x="631"/><use href="#G" x="751"/><use href="#G" x="766"/><use href="#G" x="781"/><use href="#G" x="796"/><use href="#G" x="811"/><use href="#G" x="826"/><use href="#G" x="841"/><use href="#G" x="856"/><use href="#G" x="871"/><use href="#R" x="901"/>
<rect class="ob" x="226" y="205" width="765" height="61"/>
<text class="tp" x="31" y="186">♩=182</text><text class="tp" x="751" y="186">♩=176</text>
<text class="mn" x="32" y="197.5">153</text><text class="mn" x="272" y="197.5">154</text><text class="mn" x="512" y="197.5">155</text><text class="mn" x="752" y="197.5">156</text>
<text class="n1" x="270" y="282">125</text><text class="n2" x="270" y="295">153047</text><text class="n3" x="270" y="308">57.81%</text>
<text class="n1" x="510" y="282">165</text><text class="n2" x="510" y="295">155027</text><text class="n3" x="510" y="308">45.31%</text>
<text class="n1" x="750" y="282">225</text><text class="n2" x="750" y="295">157727</text><text class="n3" x="750" y="308">32.81%</text>
<text class="n1" x="990" y="282">265</text><text class="n2" x="990" y="295">160907</text><text class="n3" x="990" y="308">20.31%</text>
</g>

<g id="r39" transform="translate(0,5499)">
<path class="yb" d="M751 195h225v10.5h-225zM751 265.5h225v11h-225z"/>
<use href="#s4"/>
<path class="t tY" d="M421 235.5H496"/><path class="t tR" d="M901 220.5H976"/>
<use href="#B" x="31"/><use href="#B" x="46"/><use href="#B" x="61"/><use href="#B" x="76"/><use href="#B" x="91"/><use href="#B" x="106"/><use href="#B" x="151"/><use href="#B" x="271"/><use href="#B" x="286"/><use href="#B" x="301"/><use href="#B" x="316"/><use href="#B" x="331"/><use href="#B" x="346"/><use href="#B" x="391"/><use href="#Y" x="421"/><use href="#G" x="511"/><use href="#G" x="526"/><use href="#G" x="541"/><use href="#G" x="556"/><use href="#G" x="571"/><use href="#G" x="586"/><use href="#G" x="601"/><use href="#G" x="616"/><use href="#G" x="631"/><use href="#sG" x="751"/><use href="#sG" x="766"/><use href="#sG" x="781"/><use href="#sG" x="796"/><use href="#sG" x="811"/><use href="#sG" x="826"/><use href="#sG" x="841"/><use href="#sG" x="856"/><use href="#sG" x="871"/><use href="#sR" x="901"/>
<rect class="ob" x="31" y="205" width="870" height="61"/><rect class="og" x="751" y="205" width="225" height="61"/>
<text class="tp" x="631" y="186">♩=172</text><text class="tp" x="751" y="186">♩=176</text>
<text class="mn" x="32" y="197.5">157</text><text class="mn" x="272" y="197.5">158</text><text class="mn" x="512" y="197.5">159</text><text class="mn" x="752" y="197.5">160</text>
<text class="n1" x="270" y="282">175</text><text class="n2" x="270" y="295">163007</text><text class="n3" x="270" y="308">7.81%</text>
<text class="n1" x="510" y="282">215</text><text class="n2" x="510" y="295">165587</text><text class="n3" x="510" y="308">0.00%</text>
<text class="n1" x="750" y="282">225</text><text class="n2" x="750" y="295">168287</text><text class="n3" x="750" y="308">0.00%</text>
<text class="n1" x="990" y="282">265</text><text class="n2" x="990" y="295">171227</text><text class="n3" x="990" y="308">29.25%</text>
</g>

<g id="r40" transform="translate(0,5640)">
<use href="#s4"/>
<path class="t tG" d="M511 205.5H556M571 205.5H631M751 205.5H796M811 205.5H871"/>
<use href="#B" x="31"/><use href="#B" x="46"/><use href="#B" x="61"/><use href="#B" x="76"/><use href="#B" x="91"/><use href="#B" x="106"/><use href="#B" x="121"/><use href="#B" x="136"/><use href="#B" x="151"/><use href="#G" x="511"/><use href="#G" x="571"/><use href="#G" x="661"/><use href="#G" x="721"/><use href="#G" x="751"/><use href="#G" x="811"/><use href="#G" x="901"/><use href="#G" x="961"/>
<rect class="op" x="721" y="205" width="13" height="61"/><rect class="ob" x="734" y="205" width="257" height="61"/>
<text class="tp" x="31" y="186">♩=171</text><text class="tp" x="271" y="186">♩=165</text><text class="tp" x="511" y="186">♩=181</text>
<text class="mn" x="32" y="197.5">161</text><text class="mn" x="272" y="197.5">162</text><text class="mn" x="512" y="197.5">163</text><text class="mn" x="752" y="197.5">164</text>
<text class="n1" x="270" y="282">225</text><text class="n2" x="270" y="295">172577</text><text class="n3" x="270" y="308">29.25%</text>
<text class="n1" x="510" y="282">0</text><text class="n2" x="510" y="295">172577</text><text class="n3" x="510" y="308">29.25%</text>
<text class="n1" x="750" y="282">121</text><text class="n2" x="750" y="295">173453</text><text class="n3" x="750" y="308">28.36%</text>
<text class="n1" x="990" y="282">121</text><text class="n2" x="990" y="295">174905</text><text class="n3" x="990" y="308">15.86%</text>
</g>

<g id="r41" transform="translate(0,5781)">
<use href="#s4"/>
<path class="t tG" d="M31 205.5H76M91 205.5H151"/><path class="t tY" d="M511 235.5H556M571 235.5H631M751 235.5H796M811 235.5H871"/>
<use href="#G" x="31"/><use href="#G" x="91"/><use href="#G" x="181"/><use href="#G" x="241"/><use href="#G" x="271"/><use href="#G" x="311"/><use href="#G" x="351"/><use href="#R" x="391"/><use href="#R" x="431"/><use href="#R" x="471"/><use href="#Y" x="511"/><use href="#Y" x="571"/><use href="#Y" x="661"/><use href="#Y" x="721"/><use href="#Y" x="751"/><use href="#Y" x="811"/><use href="#Y" x="901"/><use href="#Y" x="961"/>
<rect class="ob" x="31" y="205" width="783" height="61"/>
<text class="tp" x="31" y="186">♩=184</text><text class="tp" x="271" y="186">♩=183</text><text class="tp" x="751" y="186">♩=185</text>
<text class="mn" x="32" y="197.5">165</text><text class="mn" x="272" y="197.5">166</text><text class="mn" x="512" y="197.5">167</text><text class="mn" x="752" y="197.5">168</text>
<text class="n1" x="270" y="282">121</text><text class="n2" x="270" y="295">176357</text><text class="n3" x="270" y="308">3.36%</text>
<text class="n1" x="510" y="282">150</text><text class="n2" x="510" y="295">178157</text><text class="n3" x="510" y="308">0.00%</text>
<text class="n1" x="750" y="282">121</text><text class="n2" x="750" y="295">179609</text><text class="n3" x="750" y="308">0.00%</text>
<text class="n1" x="990" y="282">121</text><text class="n2" x="990" y="295">180695</text><text class="n3" x="990" y="308">0.00%</text>
</g>

<g id="r42" transform="translate(0,5922)">
<use href="#s4"/>
<path class="t tY" d="M31 235.5H76M91 235.5H151"/><path class="t tG" d="M511 205.5H556M571 205.5H631M751 205.5H796M811 205.5H871"/>
<use href="#Y" x="31"/><use href="#Y" x="91"/><use href="#Y" x="181"/><use href="#Y" x="241"/><use href="#Y" x="271"/><use href="#B" x="391"/><use href="#G" x="511"/><use href="#G" x="571"/><use href="#G" x="661"/><use href="#G" x="721"/><use href="#G" x="751"/><use href="#G" x="811"/><use href="#G" x="901"/><use href="#G" x="961"/>
<text class="tp" x="271" y="186">♩=189</text><text class="tp" x="511" y="186">♩=184</text>
<text class="mn" x="32" y="197.5">169</text><text class="mn" x="272" y="197.5">170</text><text class="mn" x="512" y="197.5">171</text><text class="mn" x="752" y="197.5">172</text>
<text class="n1" x="270" y="282">121</text><text class="n2" x="270" y="295">181421</text><text class="n3" x="270" y="308">0.00%</text>
<text class="n1" x="510" y="282">50</text><text class="n2" x="510" y="295">181721</text><text class="n3" x="510" y="308">0.00%</text>
<text class="n1" x="750" y="282">121</text><text class="n2" x="750" y="295">182447</text><text class="n3" x="750" y="308">0.00%</text>
<text class="n1" x="990" y="282">121</text><text class="n2" x="990" y="295">183173</text><text class="n3" x="990" y="308">0.00%</text>
</g>

<g id="r43" transform="translate(0,6063)">
<use href="#s4"/>
<path class="t tG" d="M31 205.5H76M91 205.5H151"/>
<use href="#G" x="31"/><use href="#G" x="91"/><use href="#G" x="181"/><use href="#G" x="241"/><use href="#G" x="271"/><use href="#G" x="311"/><use href="#G" x="351"/><use href="#R" x="391"/><use href="#R" x="431"/><use href="#R" x="471"/><use href="#Y" x="511"/><use href="#Y" x="751"/><use href="#Y" x="781"/>
<text class="tp" x="31" y="186">♩=185</text><text class="tp" x="511" y="186">♩=199</text><text class="tp" x="751" y="186">♩=193</text>
<text class="mn" x="32" y="197.5">173</text><text class="mn" x="272" y="197.5">174</text><text class="mn" x="512" y="197.5">175</text><text class="mn" x="752" y="197.5">176</text>
<text class="n1" x="270" y="282">121</text><text class="n2" x="270" y="295">183899</text><text class="n3" x="270" y="308">0.00%</text>
<text class="n1" x="510" y="282">150</text><text class="n2" x="510" y="295">184799</text><text class="n3" x="510" y="308">0.00%</text>
<text class="n1" x="750" y="282">25</text><text class="n2" x="750" y="295">184949</text><text class="n3" x="750" y="308">0.00%</text>
<text class="n1" x="990" y="282">50</text><text class="n2" x="990" y="295">185249</text><text class="n3" x="990" y="308">0.00%</text>
</g>

<g id="r44" transform="translate(0,6204)">
<use href="#s1"/>
<use href="#Y" x="31"/><use href="#Y" x="61"/>
<text class="tp" x="31" y="186">♩=194</text>
<text class="mn" x="32" y="197.5">177</text>
<text class="n1" x="270" y="282">50</text><text class="n2" x="270" y="295">185549</text><text class="n3" x="270" y="308">0.00%</text>
</g>
</g>
</svg>
